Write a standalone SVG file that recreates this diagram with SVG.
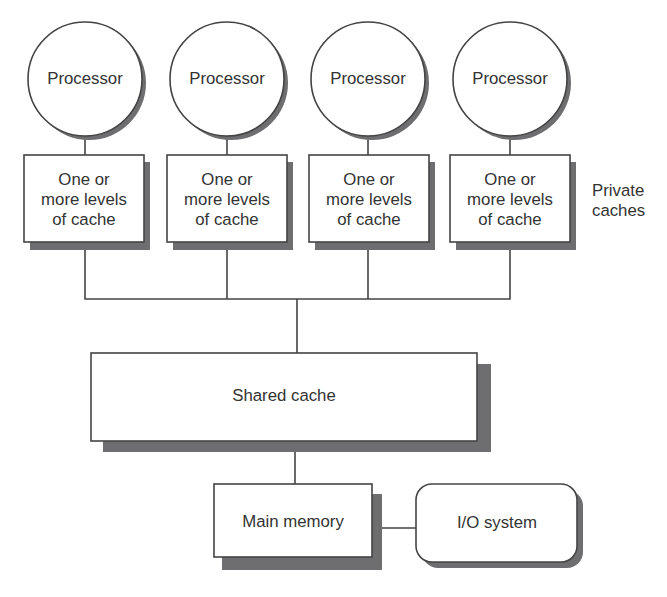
<svg xmlns="http://www.w3.org/2000/svg" width="667" height="597" viewBox="0 0 667 597">
<style>
.sh{fill:#6e6e70;stroke:none}
.nd{fill:#fff;stroke:#444;stroke-width:1.6}
.ln{fill:none;stroke:#444;stroke-width:1.6}
text{font-family:"Liberation Sans",Arial,sans-serif;font-size:16.8px;fill:#333;text-anchor:middle}
</style>
<rect width="667" height="597" fill="#fff"/>
<g id="connectors">
<line class="ln" x1="85" y1="136" x2="85" y2="155"/>
<line class="ln" x1="227" y1="136" x2="227" y2="155"/>
<line class="ln" x1="368" y1="136" x2="368" y2="155"/>
<line class="ln" x1="510" y1="136" x2="510" y2="155"/>
<path class="ln" d="M85 242V299H510V242M227 242V299M368 242V299M297 299V353"/>
<line class="ln" x1="295" y1="452" x2="295" y2="484"/>
<line class="ln" x1="382" y1="528" x2="416" y2="528"/>
</g>
<g id="proc1"><circle class="sh" cx="89" cy="83" r="57"/><circle class="nd" cx="85" cy="79" r="57"/><text x="85" y="84">Processor</text></g>
<g id="proc2"><circle class="sh" cx="231" cy="83" r="57"/><circle class="nd" cx="227" cy="79" r="57"/><text x="227" y="84">Processor</text></g>
<g id="proc3"><circle class="sh" cx="372" cy="83" r="57"/><circle class="nd" cx="368" cy="79" r="57"/><text x="368" y="84">Processor</text></g>
<g id="proc4"><circle class="sh" cx="514" cy="83" r="57"/><circle class="nd" cx="510" cy="79" r="57"/><text x="510" y="84">Processor</text></g>
<g id="cache1"><rect class="sh" x="30" y="162" width="120" height="88"/><rect class="nd" x="24" y="155" width="120" height="87"/><text x="84" y="185">One or</text><text x="84" y="205">more levels</text><text x="84" y="225">of cache</text></g>
<g id="cache2"><rect class="sh" x="173" y="162" width="120" height="88"/><rect class="nd" x="167" y="155" width="120" height="87"/><text x="227" y="185">One or</text><text x="227" y="205">more levels</text><text x="227" y="225">of cache</text></g>
<g id="cache3"><rect class="sh" x="315" y="162" width="120" height="88"/><rect class="nd" x="309" y="155" width="120" height="87"/><text x="369" y="185">One or</text><text x="369" y="205">more levels</text><text x="369" y="225">of cache</text></g>
<g id="cache4"><rect class="sh" x="456" y="162" width="120" height="88"/><rect class="nd" x="450" y="155" width="120" height="87"/><text x="510" y="185">One or</text><text x="510" y="205">more levels</text><text x="510" y="225">of cache</text></g>
<g id="private-label"><text x="592" y="196" style="text-anchor:start">Private</text><text x="592" y="216" style="text-anchor:start">caches</text></g>
<g id="shared"><rect class="sh" x="103" y="364" width="388" height="88"/><rect class="nd" x="91" y="353" width="386" height="88"/><text x="284" y="401">Shared cache</text></g>
<g id="mainmem"><rect class="sh" x="222" y="494" width="160" height="76"/><rect class="nd" x="214" y="484" width="158" height="73"/><text x="293" y="527">Main memory</text></g>
<g id="io"><rect class="sh" x="422" y="490" width="161" height="78" rx="16"/><rect class="nd" x="416" y="484" width="161" height="78" rx="16"/><text x="497" y="528">I/O system</text></g>
</svg>
